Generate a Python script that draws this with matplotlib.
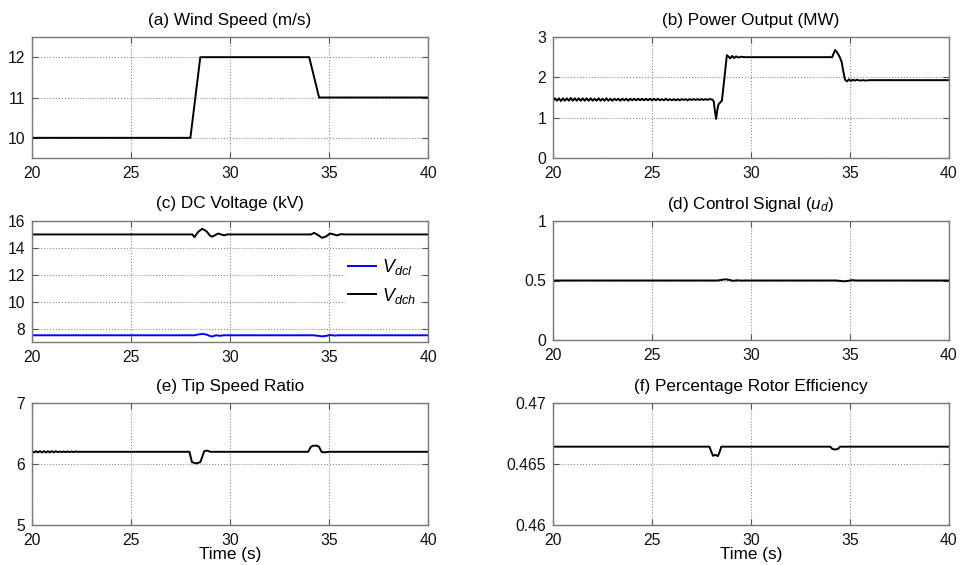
import numpy as np
import matplotlib
matplotlib.use("Agg")
from matplotlib import pyplot as plt

plt.rcParams['font.family'] = ['Liberation Sans', 'DejaVu Sans']
plt.rcParams['mathtext.fontset'] = 'custom'
plt.rcParams['mathtext.rm'] = 'Liberation Sans'
plt.rcParams['mathtext.it'] = 'Liberation Sans:italic'
plt.rcParams['mathtext.bf'] = 'Liberation Sans:bold'

# (a) wind speed
t_wind = [20, 28, 28.5, 34, 34.5, 40]
wind = [10, 10, 12, 12, 11, 11]

# (b) power output: ripple part sampled every 0.1 s from 20 s, then the transient
power_ripple = [1.42, 1.48, 1.42, 1.48, 1.41, 1.48, 1.42, 1.48, 1.42, 1.49,
                1.42, 1.48, 1.42, 1.48, 1.42, 1.48, 1.42, 1.48, 1.42, 1.48,
                1.42, 1.47, 1.42, 1.48, 1.42, 1.47, 1.42, 1.48, 1.42, 1.47,
                1.42, 1.47, 1.43, 1.47, 1.42, 1.47, 1.43, 1.47, 1.42, 1.47,
                1.43, 1.47, 1.43, 1.47, 1.43, 1.47, 1.43, 1.47, 1.43, 1.47,
                1.43, 1.47, 1.43, 1.47, 1.43, 1.46, 1.43, 1.47, 1.43, 1.46,
                1.43, 1.46, 1.43, 1.46, 1.43, 1.46, 1.44, 1.46, 1.43, 1.46,
                1.44, 1.46, 1.44, 1.46, 1.44, 1.46, 1.44, 1.46, 1.44, 1.46]
t_power = [28.05, 28.12, 28.18, 28.24, 28.30, 28.36, 28.45, 28.53, 28.65, 28.78,
           28.85, 28.95, 29.05, 29.15, 29.25, 29.35, 29.5, 29.7, 34.1, 34.18,
           34.25, 34.33, 34.42, 34.5, 34.58, 34.66, 34.75, 34.85, 34.95, 35.05,
           35.15, 35.25, 35.35, 35.5, 35.65, 35.8, 36.0, 40.0]
power = [1.45, 1.40, 1.15, 0.97, 1.20, 1.33, 1.38, 1.42, 1.95, 2.55,
         2.52, 2.47, 2.53, 2.48, 2.52, 2.49, 2.51, 2.50, 2.50, 2.60,
         2.68, 2.63, 2.56, 2.48, 2.38, 2.15, 1.94, 1.90, 1.95, 1.91,
         1.94, 1.92, 1.94, 1.92, 1.93, 1.92, 1.93, 1.93]

# (c) DC voltages
t_vdch = [20, 28.1, 28.2, 28.4, 28.6, 28.8, 29.0, 29.1, 29.25, 29.4, 29.55, 29.7,
          29.85, 30, 34.1, 34.25, 34.45, 34.65, 34.85, 35.05, 35.25, 35.4, 35.6, 35.8, 40]
vdch = [15, 15, 14.8, 15.2, 15.42, 15.25, 14.9, 14.83, 14.95, 15.07, 15.0, 14.93,
        15.0, 15.0, 15.0, 15.12, 14.95, 14.75, 14.85, 15.07, 15.0, 14.93, 15.02, 15.0, 15.0]
t_vdcl = [20, 28.2, 28.4, 28.6, 28.8, 29.0, 29.1, 29.3, 29.5, 29.7, 30,
          34.2, 34.45, 34.65, 34.85, 35.05, 35.3, 35.5, 40]
vdcl = [7.5, 7.5, 7.56, 7.6, 7.56, 7.44, 7.41, 7.5, 7.46, 7.5, 7.5,
        7.5, 7.46, 7.42, 7.45, 7.52, 7.48, 7.5, 7.5]

# (d) control signal
t_ud = [20, 28.3, 28.5, 28.7, 28.9, 29.1, 29.3, 29.5, 29.7, 34.3, 34.5, 34.7, 34.9, 35.1, 35.3, 40]
ud = [0.5, 0.5, 0.505, 0.51, 0.505, 0.497, 0.502, 0.499, 0.5, 0.5, 0.497, 0.493,
      0.497, 0.503, 0.5, 0.5]

# (e) tip speed ratio: ripple sampled every 0.1 s from 20 s, then the transient
tsr_ripple = [6.21, 6.19, 6.21, 6.19, 6.21, 6.19, 6.21, 6.19, 6.21, 6.19,
              6.21, 6.19, 6.21, 6.195, 6.205, 6.195, 6.205, 6.195, 6.205, 6.195,
              6.205, 6.195, 6.205, 6.2, 6.2]
t_tsr = [22.5, 27.95, 28.08, 28.3, 28.5, 28.6, 28.7, 28.85, 29.0, 33.95, 34.08,
         34.2, 34.4, 34.5, 34.62, 34.75, 35, 40]
tsr = [6.2, 6.2, 6.03, 6.01, 6.03, 6.12, 6.21, 6.22, 6.2, 6.2, 6.28,
       6.30, 6.30, 6.28, 6.2, 6.19, 6.2, 6.2]

# (f) rotor efficiency
t_eff = [20, 27.9, 28.0, 28.08, 28.2, 28.33, 28.42, 28.5, 34.0, 34.1, 34.25, 34.4, 34.5, 40]
eff = [0.46642, 0.46642, 0.4660, 0.46567, 0.46575, 0.46565, 0.4660, 0.46642,
       0.46642, 0.46625, 0.46618, 0.46625, 0.46642, 0.46642]

t_ripple_b = np.arange(len(power_ripple)) * 0.1 + 20
t_ripple_e = np.arange(len(tsr_ripple)) * 0.1 + 20

fig = plt.figure(figsize=(9.62, 5.65), dpi=100)
W, H = 962, 565
title_fs = 12.3


def make_ax(x0, y0, x1, y1):
    ax = fig.add_axes([x0 / W, 1 - y1 / H, (x1 - x0) / W, (y1 - y0) / H])
    ax.set_xlim(20, 40)
    ax.set_xticks([20, 25, 30, 35, 40])
    ax.grid(True, linestyle=':', color='#8c8c8c', linewidth=0.8)
    ax.tick_params(direction='in', length=4, width=0.8, top=True, right=True,
                   labelsize=11.3, colors='#555555', labelcolor='#111111')
    ax.tick_params(axis='x', pad=6)
    ax.tick_params(axis='y', pad=5)
    for s in ax.spines.values():
        s.set_color('#7a7a7a')
        s.set_linewidth(1.0)
    return ax


lw = 1.4

ax = make_ax(32, 37, 428, 158)
ax.plot(t_wind, wind, color='black', lw=lw)
ax.set_ylim(9.5, 12.5)
ax.set_yticks([10, 11, 12])
ax.set_title('(a) Wind Speed (m/s)', fontsize=title_fs, pad=9)

ax = make_ax(553, 37, 949, 158)
ax.plot(np.concatenate([t_ripple_b, t_power]), power_ripple + power, color='black', lw=lw)
ax.set_ylim(0, 3)
ax.set_yticks([0, 1, 2, 3])
ax.set_title('(b) Power Output (MW)', fontsize=title_fs, pad=9)

ax = make_ax(32, 221, 428, 342)
ax.plot(t_vdcl, vdcl, color='blue', lw=lw, label=r'$V_{dcl}$')
ax.plot(t_vdch, vdch, color='black', lw=lw, label=r'$V_{dch}$')
ax.set_ylim(7, 16)
ax.set_yticks([8, 10, 12, 14, 16])
ax.set_title('(c) DC Voltage (kV)', fontsize=title_fs, pad=9)
ax.legend(loc='center right', bbox_to_anchor=(1.0, 0.50), frameon=True,
          edgecolor='none', framealpha=1, fontsize=13, handlelength=1.55,
          labelspacing=0.45, borderpad=0.2, handletextpad=0.3)

ax = make_ax(553, 221, 949, 340)
ax.plot(t_ud, ud, color='black', lw=lw)
ax.set_ylim(0, 1)
ax.set_yticks([0, 0.5, 1])
ax.set_yticklabels(['0', '0.5', '1'])
ax.set_title(r'(d) Control Signal ($u_d$)', fontsize=title_fs, pad=9)

ax = make_ax(32, 403, 428, 525)
ax.plot(np.concatenate([t_ripple_e, t_tsr]), tsr_ripple + tsr, color='black', lw=lw)
ax.set_ylim(5, 7)
ax.set_yticks([5, 6, 7])
ax.set_title('(e) Tip Speed Ratio', fontsize=title_fs, pad=9)
ax.set_xlabel('Time (s)', fontsize=title_fs, labelpad=-1)

ax = make_ax(553, 403, 949, 525)
ax.plot(t_eff, eff, color='black', lw=lw)
ax.set_ylim(0.46, 0.47)
ax.set_yticks([0.46, 0.465, 0.47])
ax.set_yticklabels(['0.46', '0.465', '0.47'])
ax.set_title('(f) Percentage Rotor Efficiency', fontsize=title_fs, pad=9)
ax.set_xlabel('Time (s)', fontsize=title_fs, labelpad=-1)

fig.savefig('out.png', dpi=100)
